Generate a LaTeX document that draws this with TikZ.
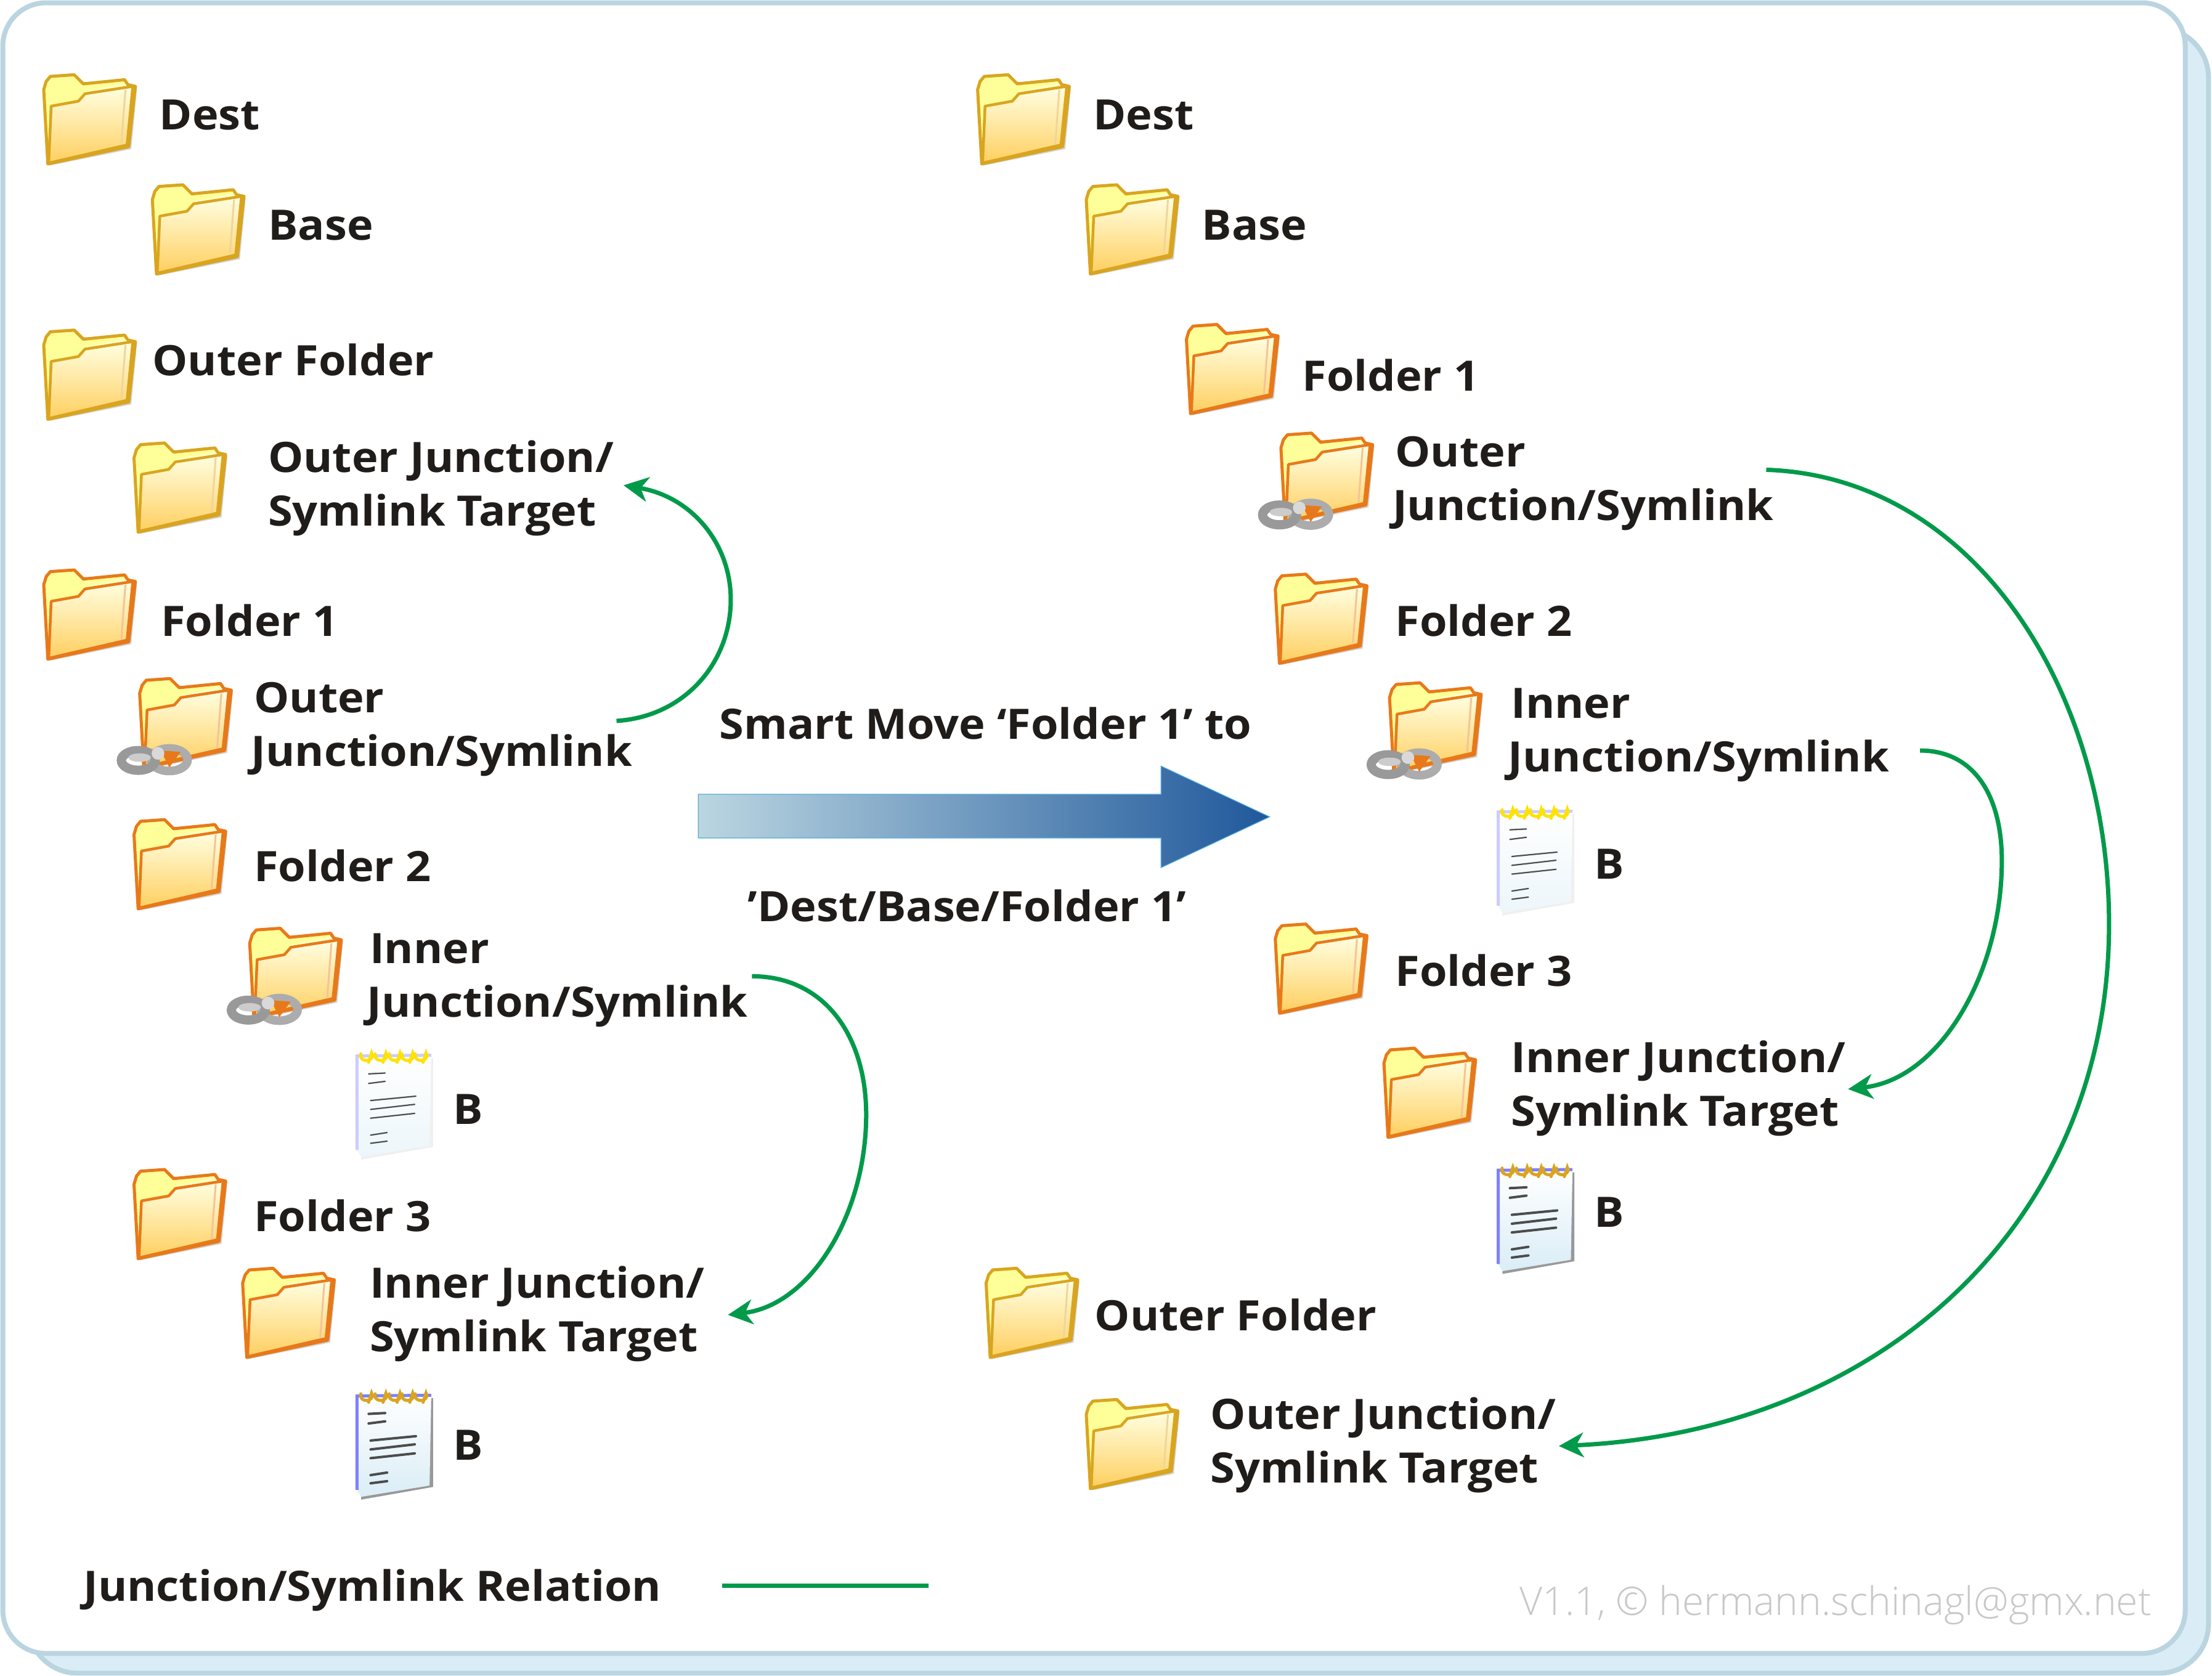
\documentclass[tikz,border=0pt]{standalone}
\usepackage{fontspec}
\setmainfont{Open Sans}[FakeStretch=1.06]
\newfontfamily\wmfont{Open Sans Light}
\usetikzlibrary{arrows.meta}
\definecolor{frameB}{HTML}{BAD5E0}
\definecolor{frameF}{HTML}{DAEDF6}
\definecolor{ink}{HTML}{201C1A}
\definecolor{relgreen}{HTML}{009A4A}
\definecolor{foldY}{HTML}{D9A520}
\definecolor{foldO}{HTML}{E8791A}
\definecolor{tabY}{HTML}{FFFF99}
\definecolor{frontT}{HTML}{FFFFE2}
\definecolor{frontM}{HTML}{FFFF99}
\definecolor{frontB}{HTML}{FFCF60}
\definecolor{arrowL}{HTML}{BBD6E1}
\definecolor{arrowR}{HTML}{1F589B}
\definecolor{arrowE}{HTML}{55ACDD}
\definecolor{wmark}{HTML}{C8C8C8}
\tikzset{
  lbl/.style={anchor=base west,inner sep=0pt,yshift=2.3pt,text=ink,font=\bfseries\fontsize{68}{68}\selectfont},
  wm/.style={anchor=base east,inner sep=0pt,text=wmark,font=\wmfont\fontsize{64}{64}\selectfont},
  rel/.style={draw=relgreen,line width=7pt},
  relarrow/.style={rel,-{Stealth[length=40pt,width=40pt,inset=12pt]}},
  pics/folder/.style={code={
    \begin{scope}[scale=.585]
      \fill[black,opacity=.18] (7,110)--(2,20)--(10,4)--(113,16)--(106,90)--cycle;
      \path[draw=#1,line width=5pt,line join=round,top color=tabY,bottom color=tabY]
        (5,108)--(0,18)--(3,8)--(8,2)--(37,0)--(48,11)--(98,6)--(102,12)--(111,14)--(103,87)--cycle;
      \path[fill=tabY!60!white] (50,20)--(98,10)--(101,14)--(50,23)--cycle;
      \path[draw=#1,line width=4.5pt,line join=round,top color=frontT,middle color=frontM,bottom color=frontB]
        (9,38)--(42,32)--(50,23)--(108,14)--(101,85)--(6,107)--cycle;
      \draw[#1!45!white,line width=3pt] (99,18)--(94,84);
    \end{scope}
  }},
  pics/chainlink/.style={code={
    \draw[gray!65,line width=14pt] (30,57.5) ellipse (13 and 8);
    \fill[foldO] (24,51)--(38,52)--(30,63)--cycle;
    \draw[gray!80,line width=15pt] (8,58) ellipse (12 and 7);
    \fill[gray!40] (9,56) ellipse (8 and 3);
    \fill[gray!30] (22,53) circle (4.5);
  }},
  pics/docicon/.style n args={5}{code={
    \fill[black,opacity=#4] (3,80)--(54,71)--(54,8)--(51,8)--(51,68)--(3,76)--cycle;
    \path[top color=white,bottom color=#3] (0,6.5)--(52.7,6)--(51.5,70)--(3,78)--(0,73)--cycle;
    \draw[#1,line width=5pt] (0,73)--(0,6.5)--(52.7,6);
    \foreach \rx in {6.8,17,27,36,45.4}
      \draw[#2,line width=5pt,line cap=round] (\rx-4,5) arc (200:-30:4.2 and 3.5)--(\rx+1.5,11);
    \foreach \ax/\ay/\bx/\by in {8.3/19.2/20/18.6,8.3/26/20/24.5,9.7/38.1/41.8/35,9.7/44.4/41/40.8,9.7/50.6/41/47.2,9.7/62.6/21.4/60.8,9.7/68.4/21.4/66.9}
      \draw[black!70,line width=#5,line cap=round] (\ax,\ay)--(\bx,\by);
  }},
}
\begin{document}
\begin{tikzpicture}[x=2.2895pt,y=-2.2895pt]
\useasboundingbox (0,0) rectangle (1568,1188);
% frame
\draw[draw=frameB,fill=frameF,line width=8pt,rounded corners=80pt] (20,20) rectangle (1565.5,1186);
\draw[draw=frameB,fill=white,line width=8pt,rounded corners=70pt] (2,2) rectangle (1549,1172);
% left column
\pic at (31,53) {folder=foldY};
\node[lbl] (ldest) at (113,93) {Dest};
\pic at (108,131) {folder=foldY};
\node[lbl] (lbase) at (190,171) {Base};
\pic at (31,234) {folder=foldY};
\node[lbl] (louter) at (108,267) {Outer Folder};
\pic at (95,314) {folder=foldY};
\node[lbl] (lotA) at (190,336) {Outer Junction/};
\node[lbl] (lotB) at (190,374) {Symlink Target};
\pic at (31,404) {folder=foldO};
\node[lbl] (lf1) at (114,452) {Folder 1};
\pic at (99,481) {folder=foldO};
\pic at (90,481) {chainlink};
\node[lbl] (lojA) at (180,506) {Outer};
\node[lbl] (lojB) at (178,544) {Junction/Symlink};
\pic at (95,581) {folder=foldO};
\node[lbl] (lf2) at (180,626) {Folder 2};
\pic at (177,658) {folder=foldO};
\pic at (168,658) {chainlink};
\node[lbl] (lijA) at (262,684) {Inner};
\node[lbl] (lijB) at (260,722) {Junction/Symlink};
\pic at (253,742) {docicon={blue!20!white}{yellow!85!orange}{frameF!50!white}{.06}{2.2pt}};
\node[lbl] (lb1) at (321,798) {B};
\pic at (95,829) {folder=foldO};
\node[lbl] (lf3) at (180,874) {Folder 3};
\pic at (172,899) {folder=foldO};
\node[lbl] (litA) at (262,921) {Inner Junction/};
\node[lbl] (litB) at (262,959) {Symlink Target};
\pic at (253,983) {docicon={blue!50!white}{foldY}{frameF}{.4}{4pt}};
\node[lbl] (lb2) at (321,1036) {B};
% legend
\node[lbl] (legend) at (59,1136) {Junction/Symlink Relation};
\coordinate (legS) at (512,1124);
\coordinate (legE) at (658,1124);
\draw[rel] (legS)--(legE);
% centre arrow
\path[draw=arrowE,line width=1.2pt,left color=arrowL,right color=arrowR]
  (495,563)--(823,563)--(823,543)--(900,579)--(823,615)--(823,594)--(495,594)--cycle;
\node[lbl] (mv1) at (510,525) {Smart Move ‘Folder 1’ to};
\node[lbl] (mv2) at (530,654) {’Dest/Base/Folder 1’};
% right column
\pic at (693,53) {folder=foldY};
\node[lbl] (rdest) at (775,93) {Dest};
\pic at (770,131) {folder=foldY};
\node[lbl] (rbase) at (852,171) {Base};
\pic at (841,230) {folder=foldO};
\node[lbl] (rf1) at (923,278) {Folder 1};
\pic at (908,307) {folder=foldO};
\pic at (899,307) {chainlink};
\node[lbl] (rojA) at (989,332) {Outer};
\node[lbl] (rojB) at (987,370) {Junction/Symlink};
\pic at (904,407) {folder=foldO};
\node[lbl] (rf2) at (989,452) {Folder 2};
\pic at (985,484) {folder=foldO};
\pic at (976,484) {chainlink};
\node[lbl] (rijA) at (1071,510) {Inner};
\node[lbl] (rijB) at (1069,548) {Junction/Symlink};
\pic at (1062,569) {docicon={blue!20!white}{yellow!85!orange}{frameF!50!white}{.06}{2.2pt}};
\node[lbl] (rb1) at (1130,624) {B};
\pic at (904,655) {folder=foldO};
\node[lbl] (rf3) at (989,700) {Folder 3};
\pic at (981,743) {folder=foldO};
\node[lbl] (ritA) at (1071,761) {Inner Junction/};
\node[lbl] (ritB) at (1071,799) {Symlink Target};
\pic at (1062,823) {docicon={blue!50!white}{foldY}{frameF}{.4}{4pt}};
\node[lbl] (rb2) at (1130,871) {B};
\pic at (699,899) {folder=foldY};
\node[lbl] (router) at (776,944) {Outer Folder};
\pic at (770,992) {folder=foldY};
\node[lbl] (rotA) at (858,1014) {Outer Junction/};
\node[lbl] (rotB) at (858,1052) {Symlink Target};
\node[wm] (wmk) at (1525,1145) {V1.1, © hermann.schinagl@gmx.net};
% relations
\coordinate (a1) at (437,511); \coordinate (a2) at (442,344);
\coordinate (b1) at (533,692); \coordinate (b2) at (516,932);
\coordinate (c1) at (1361,532); \coordinate (c2) at (1310,772);
\coordinate (d1) at (1252,333); \coordinate (d2) at (1105,1025);
\draw[relarrow] (a1) .. controls (485,508) and (518,470) .. (518,425) .. controls (518,385) and (490,352) .. (a2);
\draw[relarrow] (b1) .. controls (585,692) and (614,735) .. (614,790) .. controls (614,860) and (575,925) .. (b2);
\draw[relarrow] (c1) .. controls (1400,532) and (1419,565) .. (1419,610) .. controls (1419,690) and (1375,765) .. (c2);
\draw[relarrow] (d1) .. controls (1400,338) and (1495,490) .. (1495,655) .. controls (1495,870) and (1330,1015) .. (d2);
\end{tikzpicture}
\end{document}
